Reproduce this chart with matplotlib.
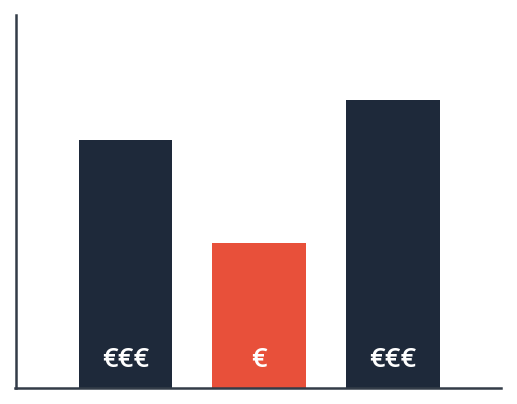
import matplotlib
matplotlib.use('Agg')
import matplotlib.pyplot as plt

# price levels per option
categories = ['A', 'B', 'C']
values = [66.7, 38.9, 77.3]
labels = ['€€€', '€', '€€€']
colors = ['#1e293a', '#e8503a', '#1e293a']

fig = plt.figure(figsize=(5.17, 4.04), dpi=100)
ax = fig.add_axes([15.5/517, 16/404, (501-15.5)/517, (388-15.5)/404])

x = range(len(categories))
ax.bar(x, values, width=0.7, color=colors)
ax.set_xlim(-0.823, 2.81)
ax.set_ylim(0, 100)

for i, lab in enumerate(labels):
    ax.text(i, 7.6, lab, ha='center', va='center', color='white',
            fontsize=19.5, fontfamily='Open Sans', fontweight='semibold')

for s in ['top', 'right']:
    ax.spines[s].set_visible(False)
for s in ['left', 'bottom']:
    ax.spines[s].set_color('#333c48')
    ax.spines[s].set_linewidth(1.8)
ax.set_xticks([])
ax.set_yticks([])

fig.savefig('out.png', dpi=100)
